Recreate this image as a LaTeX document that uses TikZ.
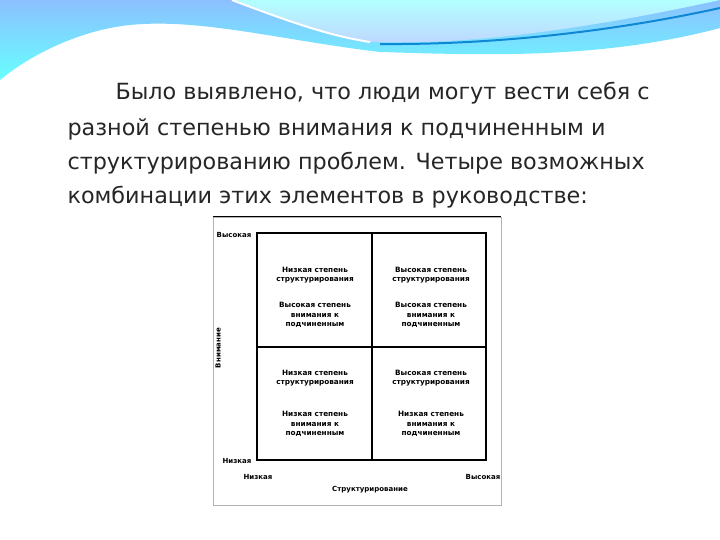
\documentclass[tikz,border=0pt]{standalone}
\usepackage{fontspec}
\setmainfont{DejaVu Sans}
\begin{document}
\begin{tikzpicture}[x=1pt,y=-1pt,
 cell/.style={align=center,font=\fontsize{7.3}{9.5}\selectfont\bfseries},
 ax/.style={font=\fontsize{7}{8}\selectfont\bfseries},
 body/.style={anchor=west,font=\fontsize{22.3}{24}\selectfont,text=black!85}]
\useasboundingbox (0,0) rectangle (720,540);
\fill[white] (0,0) rectangle (720,540);
% wave
\shade[top color=cyan!45!blue!45,bottom color=cyan!60] (0,0) -- (720,0) -- (720,28) .. controls (600,60) and (480,55) .. (380,52) .. controls (280,40) and (200,18) .. (130,25) .. controls (80,30) and (30,55) .. (0,80) -- cycle;
\shade[top color=cyan!30,bottom color=cyan!35!blue!25] (235,0) .. controls (300,25) and (340,38) .. (370,42) .. controls (450,45) and (560,35) .. (720,0) -- cycle;
\draw[white,line width=2pt] (232,0) .. controls (290,22) and (330,36) .. (370,42);
\draw[cyan!70!blue,line width=2pt] (380,44) .. controls (500,45) and (620,30) .. (720,8);
% text
\node[body] (l1) at (112,93) {Было выявлено, что люди могут вести себя с};
\node[body] (l2) at (64,129) {разной степенью внимания к подчиненным и};
\node[body] (l3) at (64,163) {структурированию проблем. Четыре возможных};
\node[body] (l4) at (64,197) {комбинации этих элементов в руководстве:};
% figure frame
\draw[line width=1.5pt] (213,217) -- (501,217);
\draw[gray!60,line width=0.6pt] (213,217) rectangle (501,505);
% grid
\draw[line width=2pt] (257,233) rectangle (486,460);
\draw[line width=1.2pt] (372,233) -- (372,460) (257,347) -- (486,347);
\node[cell] (a1) at (315,275) {Низкая степень\\структурирования};
\node[cell] (a2) at (315,315) {Высокая степень\\внимания к\\подчиненным};
\node[cell] (b1) at (431,275) {Высокая степень\\структурирования};
\node[cell] (b2) at (431,315) {Высокая степень\\внимания к\\подчиненным};
\node[cell] (c1) at (315,378) {Низкая степень\\структурирования};
\node[cell] (c2) at (315,424) {Низкая степень\\внимания к\\подчиненным};
\node[cell] (d1) at (431,378) {Высокая степень\\структурирования};
\node[cell] (d2) at (431,424) {Низкая степень\\внимания к\\подчиненным};
\node[ax] (y1) at (234,235) {Высокая};
\node[ax] (y0) at (237,461) {Низкая};
\node[ax] (x0) at (258,477) {Низкая};
\node[ax] (x1) at (483,477) {Высокая};
\node[ax] (xl) at (370,490) {Структурирование};
\node[ax,rotate=90] (yl) at (218,348) {Внимание};
\end{tikzpicture}
\end{document}
